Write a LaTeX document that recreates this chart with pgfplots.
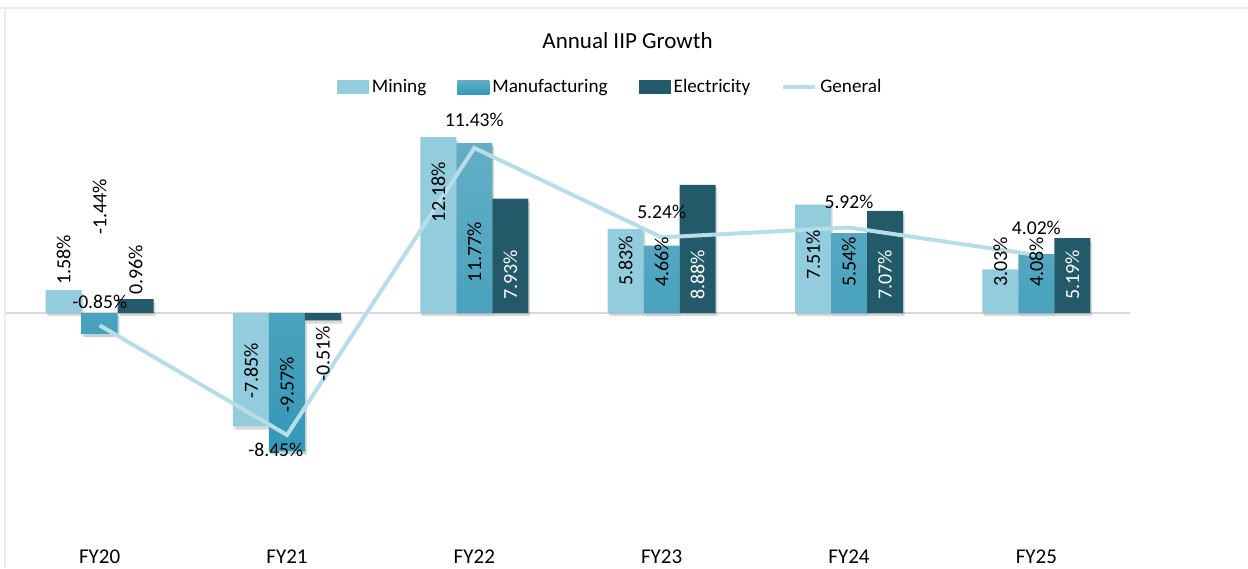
\documentclass[border=0pt]{standalone}
\usepackage{pgfplots}
\pgfplotsset{compat=1.18}
\usepackage{fontspec}
\setmainfont{Carlito}
\definecolor{mining}{RGB}{147,205,221}
\definecolor{manuTop}{RGB}{100,174,198}
\definecolor{manuBot}{RGB}{52,152,183}
\definecolor{elec}{RGB}{34,90,105}
\definecolor{general}{RGB}{183,221,232}
\definecolor{zeroline}{RGB}{217,217,217}

% bar values: x(category index)  y(value)
\pgfplotstableread{
x y
0 1.58
1 -7.85
2 12.18
3 5.83
4 7.51
5 3.03
}\mining
\pgfplotstableread{
x y
0 -1.44
1 -9.57
2 11.77
3 4.66
4 5.54
5 4.08
}\manuf
\pgfplotstableread{
x y
0 0.96
1 -0.51
2 7.93
3 8.88
4 7.07
5 5.19
}\elec
\pgfplotstableread{
x y
0 -0.85
1 -8.45
2 11.43
3 5.24
4 5.92
5 4.02
}\general

% label tables: x  y(label position)  v(value shown)
\pgfplotstableread{
x y v
-0.192 3.67 1.58
0.808 -4.01 -7.85
1.808 8.37 12.18
2.808 3.60 5.83
3.808 4.01 7.51
4.808 3.53 3.03
}\mininglab
\pgfplotstableread{
x y v
0 7.34 -1.44
1 -4.98 -9.57
2 4.22 11.77
3 3.53 4.66
4 3.53 5.54
5 3.53 4.08
}\manuflab
\pgfplotstableread{
x y v
0.192 2.98 0.96
1.192 -2.84 -0.51
}\eleclabout
\pgfplotstableread{
x y v
2.192 2.63 7.93
3.192 2.63 8.88
4.192 2.63 7.07
5.192 2.63 5.19
}\eleclabin
\pgfplotstableread{
x y v
0 0.76 -0.85
0.94 -9.48 -8.45
2 13.36 11.43
3 6.99 5.24
4 7.68 5.92
5 5.88 4.02
}\generallab

\begin{document}
\begin{tikzpicture}
\path[use as bounding box] (0pt,0pt) rectangle (624pt,284pt);
\draw[black!8, line width=0.8pt] (0pt,280pt) -- (624pt,280pt);
\draw[black!8, line width=0.8pt] (2.5pt,280pt) -- (2.5pt,0pt);
\begin{axis}[
  at={(3pt,12pt)}, anchor=south west,
  scale only axis,
  width=562pt, height=231pt,
  xmin=-0.5, xmax=5.5,
  ymin=-16, ymax=16,
  clip=false,
  axis line style={draw=none},
  major tick length=0pt,
  xtick={0,1,2,3,4,5},
  xticklabels={FY20,FY21,FY22,FY23,FY24,FY25},
  xticklabel style={font=\fontsize{10.5}{12}\selectfont, yshift=0.5pt},
  ytick={0}, yticklabels={},
  ymajorgrids,
  major grid style={draw=zeroline, line width=0.8pt},
  title={Annual IIP Growth},
  title style={at={(rel axis cs:0.553,1.064)}, anchor=center, font=\fontsize{11.5}{13}\selectfont},
  legend style={at={(rel axis cs:0.538,0.989)}, anchor=center, draw=none, fill=none,
    legend columns=4, font=\fontsize{9.6}{12}\selectfont,
    /tikz/every even column/.append style={column sep=14pt},
    nodes={inner sep=1.5pt}},
  nodes near coords={\pgfmathprintnumber[fixed, fixed zerofill, precision=2]{\pgfplotspointmeta}\%},
  /pgf/number format/assume math mode=true,
  barshadow/.style={preaction={fill=black, opacity=0.15, transform canvas={xshift=0.8pt, yshift=-1.6pt}}},
]
% legend
\addlegendimage{draw=none, legend image code/.code={\fill[mining, draw=none] (0pt,-3.5pt) rectangle (16pt,3.5pt);}}
\addlegendentry{Mining}
\addlegendimage{draw=none, legend image code/.code={\shade[draw=none, top color=manuTop, bottom color=manuBot] (0pt,-3.5pt) rectangle (16pt,3.5pt);}}
\addlegendentry{Manufacturing}
\addlegendimage{draw=none, legend image code/.code={\fill[elec, draw=none] (0pt,-3.5pt) rectangle (16pt,3.5pt);}}
\addlegendentry{Electricity}
\addlegendimage{draw=none, legend image code/.code={\draw[general, line width=2pt] (0pt,0pt) -- (16pt,0pt);}}
\addlegendentry{General}

\addplot[forget plot, ybar, bar width=18pt, bar shift=-18pt, fill=mining, draw=none, barshadow,
  nodes near coords={}]
  table[x=x, y=y] {\mining};
\addplot[forget plot, ybar, bar width=18pt, bar shift=0pt, top color=manuTop, bottom color=manuBot, draw=none, barshadow,
  nodes near coords={}]
  table[x=x, y=y] {\manuf};
\addplot[forget plot, ybar, bar width=18pt, bar shift=18pt, fill=elec, draw=none, barshadow,
  nodes near coords={}]
  table[x=x, y=y] {\elec};
\addplot[forget plot, general, line width=2pt, mark=none, nodes near coords={}]
  table[x=x, y=y] {\general};

% data labels
\addplot[draw=none, forget plot, point meta=explicit,
  nodes near coords style={rotate=90, anchor=center, text=black, font=\fontsize{10}{12}\selectfont}]
  table[x=x, y=y, meta=v] {\mininglab};
\addplot[draw=none, forget plot, point meta=explicit,
  nodes near coords style={rotate=90, anchor=center, text=black, font=\fontsize{10}{12}\selectfont}]
  table[x=x, y=y, meta=v] {\manuflab};
\addplot[draw=none, forget plot, point meta=explicit,
  nodes near coords style={rotate=90, anchor=center, text=black, font=\fontsize{10}{12}\selectfont}]
  table[x=x, y=y, meta=v] {\eleclabout};
\addplot[draw=none, forget plot, point meta=explicit,
  nodes near coords style={rotate=90, anchor=center, text=white, font=\fontsize{10}{12}\selectfont}]
  table[x=x, y=y, meta=v] {\eleclabin};
\addplot[draw=none, forget plot, point meta=explicit,
  nodes near coords style={anchor=center, text=black, font=\fontsize{9.8}{12}\selectfont}]
  table[x=x, y=y, meta=v] {\generallab};
\end{axis}
\end{tikzpicture}
\end{document}
